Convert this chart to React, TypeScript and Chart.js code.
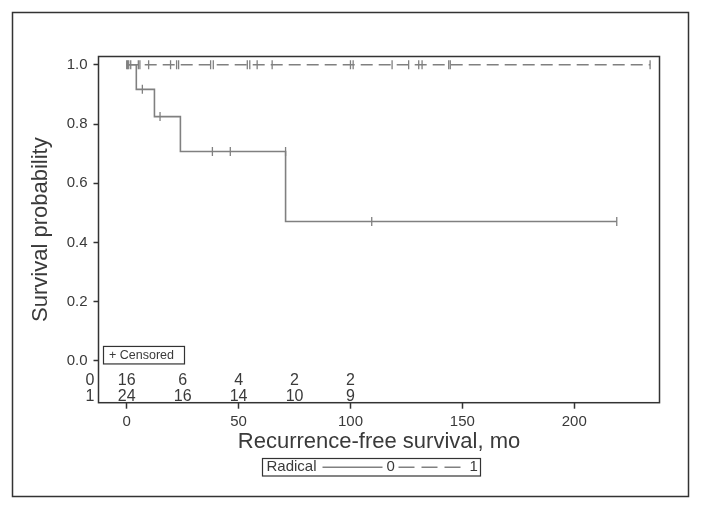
import React, { useEffect, useRef } from "react";
import { Chart, registerables } from "chart.js";

Chart.register(...registerables);

// ---- Data ----
const riskTimes = [0, 25, 50, 75, 100];
const riskGroup0 = [16, 6, 4, 2, 2];
const riskGroup1 = [24, 16, 14, 10, 9];
const groupLabels = ["0", "1"];

const km0Times = [0, 4.3, 12.4, 24, 71, 219];
const km0Surv = [1, 0.917, 0.825, 0.707, 0.471, 0.471];
const km1Times = [0, 233.9];
const km1Surv = [1, 1];

const cens0Times = [0, 0.4, 0.9, 1.8, 7, 14.9, 38.3, 46.3, 71, 109.5, 219];
const cens0Surv = [1, 1, 1, 1, 0.917, 0.825, 0.707, 0.707, 0.707, 0.471, 0.471];
const cens1Times = [5.2, 5.9, 9.8, 19.6, 22.3, 23.2, 37.5, 38.7, 53.9, 55, 58.3, 65, 100, 101.2, 118.6, 126, 130.5, 132, 143.9, 144.6, 233.9];
const cens1Surv = cens1Times.map(() => 1);

const xTicks = [0, 50, 100, 150, 200];
const yTicks = [0, 0.2, 0.4, 0.6, 0.8, 1.0];

const xTitle = "Recurrence-free survival, mo";
const yTitle = "Survival probability";
const legendTitle = "Radical";
const censoredLabel = "+ Censored";

const FONT = "'Liberation Sans', Arial, Helvetica, sans-serif";
const TEXT = "#3a3a3a";
const FRAME = "#333333";
const LINE = "#808080";

const toPts = (xs: number[], ys: number[]) => xs.map((x, i) => ({ x, y: ys[i] }));

const decorPlugin = {
  id: "decor",
  afterDraw(chart: any) {
    const { ctx, chartArea, scales } = chart;
    const xs = scales.x;
    const ys = scales.y;
    ctx.save();
    // outer frame
    ctx.strokeStyle = FRAME;
    ctx.lineWidth = 1.5;
    ctx.strokeRect(12.5, 12.5, 676, 484);
    // plot frame
    ctx.strokeRect(chartArea.left, chartArea.top, chartArea.right - chartArea.left, chartArea.bottom - chartArea.top);

    // censored box
    const y0 = ys.getPixelForValue(0);
    ctx.lineWidth = 1.2;
    ctx.strokeRect(chartArea.left + 5, y0 - 14.5, 81, 17.5);
    ctx.fillStyle = TEXT;
    ctx.font = `12.5px ${FONT}`;
    ctx.textAlign = "left";
    ctx.textBaseline = "middle";
    ctx.fillText(censoredLabel, chartArea.left + 10.5, y0 - 5.5);

    // risk table
    ctx.font = `16px ${FONT}`;
    ctx.textAlign = "center";
    const rows = [riskGroup0, riskGroup1];
    const rowY = [y0 + 19.5, y0 + 35.5];
    rows.forEach((row, r) => {
      row.forEach((n, i) => {
        ctx.fillText(String(n), xs.getPixelForValue(riskTimes[i]), rowY[r]);
      });
      ctx.textAlign = "right";
      ctx.fillText(groupLabels[r], chartArea.left - 4, rowY[r]);
      ctx.textAlign = "center";
    });

    // legend box
    const lx = 262.5, ly = 458.5, lw = 218, lh = 17.5;
    const cy = ly + lh / 2;
    ctx.strokeStyle = FRAME;
    ctx.lineWidth = 1.2;
    ctx.strokeRect(lx, ly, lw, lh);
    ctx.font = `15px ${FONT}`;
    ctx.textAlign = "left";
    ctx.fillText(legendTitle, lx + 4, cy);
    ctx.strokeStyle = LINE;
    ctx.lineWidth = 1.5;
    ctx.beginPath();
    ctx.moveTo(lx + 60, cy);
    ctx.lineTo(lx + 120, cy);
    ctx.stroke();
    ctx.fillText(groupLabels[0], lx + 124, cy);
    ctx.setLineDash([16, 7]);
    ctx.beginPath();
    ctx.moveTo(lx + 136, cy);
    ctx.lineTo(lx + 203, cy);
    ctx.stroke();
    ctx.setLineDash([]);
    ctx.fillText(groupLabels[1], lx + 207, cy);
    ctx.restore();
  },
};

export default function App() {
  const ref = useRef<HTMLCanvasElement | null>(null);
  useEffect(() => {
    document.body.style.margin = "0";
    if (!ref.current) return;
    const markCommon = {
      showLine: false,
      pointStyle: "line" as const,
      rotation: 90,
      pointRadius: 4.5,
      pointBorderWidth: 1.3,
      pointBorderColor: LINE,
      borderColor: LINE,
      backgroundColor: LINE,
    };
    const chart = new Chart(ref.current, {
      type: "scatter",
      data: {
        datasets: [
          { data: toPts(cens0Times, cens0Surv), ...markCommon },
          { data: toPts(cens1Times, cens1Surv), ...markCommon },
          {
            data: toPts(km0Times, km0Surv),
            showLine: true,
            stepped: "before",
            borderColor: LINE,
            borderWidth: 1.6,
            pointRadius: 0,
          },
          {
            data: toPts(km1Times, km1Surv),
            showLine: true,
            borderColor: LINE,
            borderWidth: 1.6,
            borderDash: [12, 6],
            pointRadius: 0,
          },
        ],
      },
      options: {
        animation: false,
        responsive: false,
        layout: { padding: { left: 0, top: 56.5, right: 41.5, bottom: 0 } },
        plugins: { legend: { display: false }, tooltip: { enabled: false } },
        scales: {
          x: {
            type: "linear",
            min: -12.6,
            max: 238.1,
            border: { display: false },
            grid: { drawOnChartArea: false, drawTicks: true, tickLength: 6, tickColor: FRAME, tickWidth: 1.5 },
            ticks: { font: { family: FONT, size: 15 }, color: TEXT, padding: 4 },
            title: {
              display: true,
              text: xTitle,
              font: { family: FONT, size: 22 },
              color: TEXT,
              padding: { top: 0, bottom: 55 },
            },
            afterBuildTicks: (s: any) => {
              s.ticks = xTicks.map((v) => ({ value: v }));
            },
            afterFit: (s: any) => {
              s.height = 107.3;
            },
          },
          y: {
            type: "linear",
            min: -0.141,
            max: 1.028,
            border: { display: false },
            grid: { drawOnChartArea: false, drawTicks: true, tickLength: 5, tickColor: FRAME, tickWidth: 1.5 },
            ticks: {
              font: { family: FONT, size: 15 },
              color: TEXT,
              padding: 6,
              callback: (v: any) => Number(v).toFixed(1),
            },
            title: {
              display: true,
              text: yTitle,
              font: { family: FONT, size: 22 },
              color: TEXT,
              padding: { top: 28, bottom: 0 },
            },
            afterBuildTicks: (s: any) => {
              s.ticks = yTicks.map((v) => ({ value: v }));
            },
            afterFit: (s: any) => {
              s.width = 98.5;
            },
          },
        },
      },
      plugins: [decorPlugin],
    });
    return () => chart.destroy();
  }, []);
  return (
    <div style={{ width: 701, height: 510 }}>
      <canvas ref={ref} width={701} height={510} />
    </div>
  );
}
